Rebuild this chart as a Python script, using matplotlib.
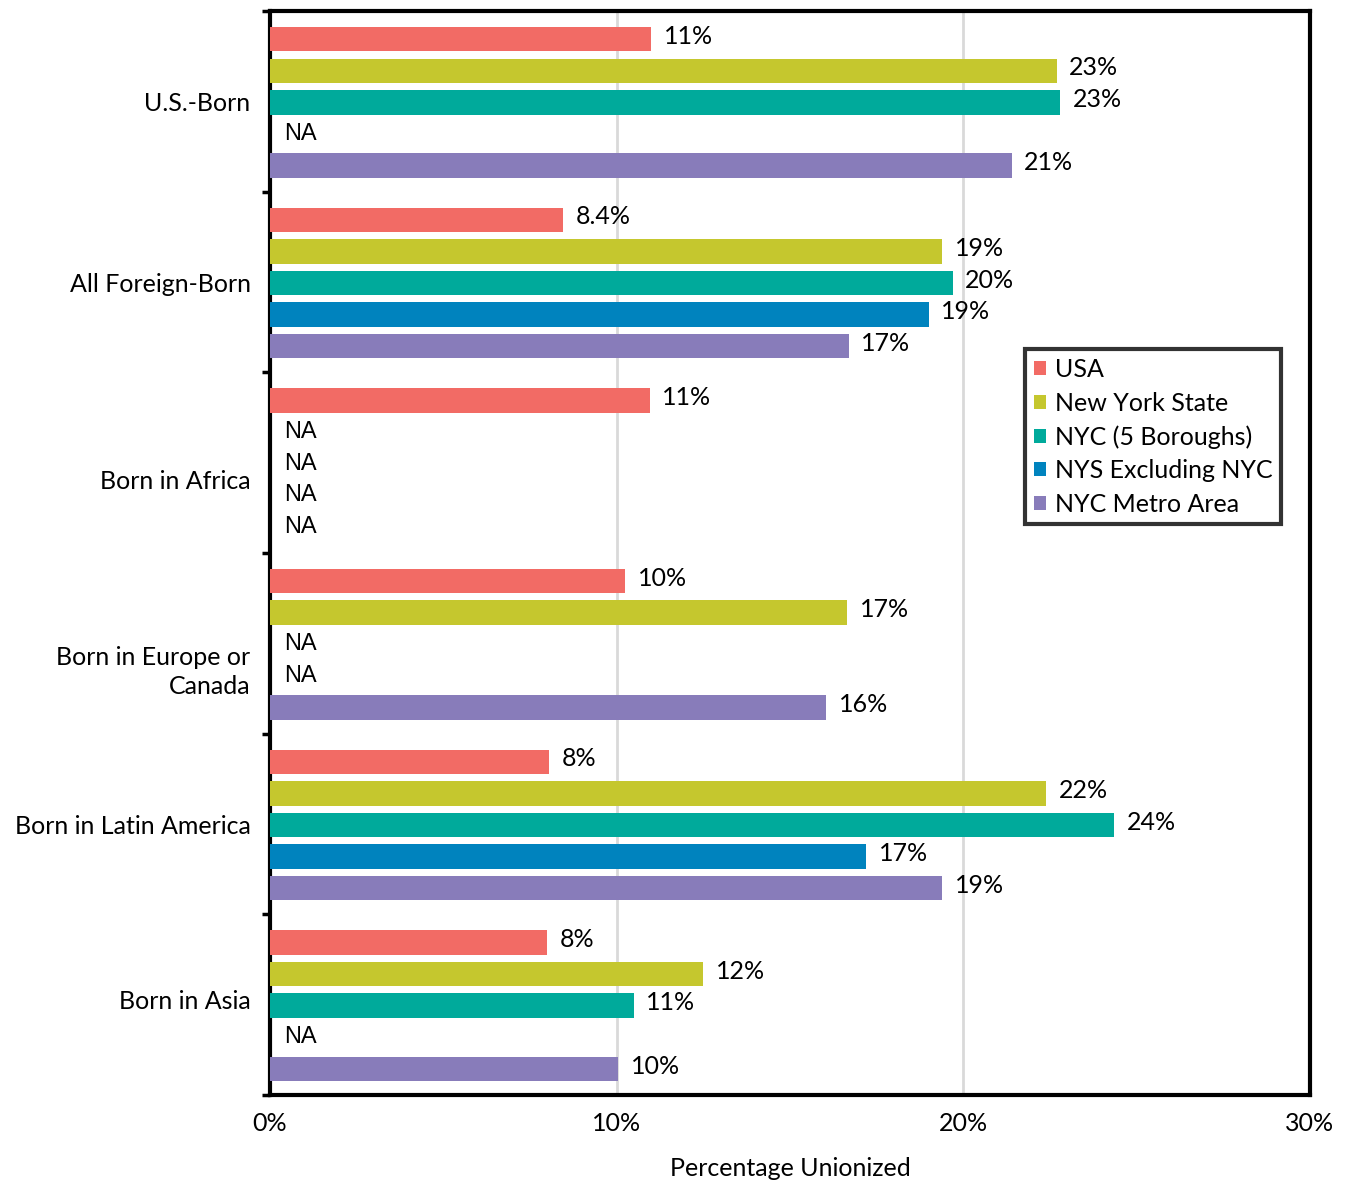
import numpy as np
import matplotlib
matplotlib.use("Agg")
import matplotlib.pyplot as plt
import matplotlib.transforms as mtransforms
from matplotlib.patches import Patch

plt.rcParams['font.family'] = ['Lato', 'DejaVu Sans']

groups = ["U.S.-Born", "All Foreign-Born", "Born in Africa",
          "Born in Europe or\nCanada", "Born in Latin America", "Born in Asia"]
series = ["USA", "New York State", "NYC (5 Boroughs)", "NYS Excluding NYC", "NYC Metro Area"]
colors = ["#F26B65", "#C5C72E", "#00AA9B", "#0083BE", "#887CBA"]

# percentage unionized; None = not available
usa        = [11.0, 8.45, 10.95, 10.25, 8.05, 8.0]
nys        = [22.7, 19.4, None, 16.65, 22.4, 12.5]
nyc        = [22.8, 19.7, None, None, 24.35, 10.5]
nys_ex_nyc = [None, 19.0, None, None, 17.2, None]
nyc_metro  = [21.4, 16.7, None, 16.05, 19.4, 10.05]
labels = [
    ["11%", "8.4%", "11%", "10%", "8%", "8%"],
    ["23%", "19%", "NA", "17%", "22%", "12%"],
    ["23%", "20%", "NA", "NA", "24%", "11%"],
    ["NA", "19%", "NA", "NA", "17%", "NA"],
    ["21%", "17%", "NA", "16%", "19%", "10%"],
]
values = [usa, nys, nyc, nys_ex_nyc, nyc_metro]
x_ticks = [0, 10, 20, 30]
x_ticklabels = ["0%", "10%", "20%", "30%"]

fig = plt.figure(figsize=(13.54, 11.83), dpi=100)
ax = fig.add_axes([0.1994, 0.0744, 0.768, 0.9162])

step = 0.175
height = 0.135
for j, (vals, col, labs) in enumerate(zip(values, colors, labels)):
    for i, (v, lab) in enumerate(zip(vals, labs)):
        y = i + 0.505 + (j - 2) * step
        if v is None:
            ax.text(0.42, y, "NA", ha="left", va="center", fontsize=17,
                    family=["Liberation Sans", "DejaVu Sans"])
        else:
            ax.barh(y, v, height=height, color=col, zorder=3)
            ax.annotate(lab, (v, y), xytext=(9, 2), textcoords="offset points",
                        ha="left", va="center", fontsize=18)

ax.set_ylim(6, 0)
ax.set_xlim(0, 30)
ax.set_yticks(np.arange(6) + 0.5)
ax.set_yticklabels(groups, fontsize=18, ha="right", linespacing=1.3)
ax.set_yticks(np.arange(7), minor=True)
ax.tick_params(axis="y", which="major", length=0, pad=14)
ax.tick_params(axis="y", which="minor", length=6, width=2.5, direction="out")

# vertical nudges (in points) for a few category labels
label_shift = {2: -12, 3: -17, 5: 4}
for i, tl in enumerate(ax.get_yticklabels()):
    dy = label_shift.get(i, 0)
    if dy:
        tl.set_transform(tl.get_transform() +
                         mtransforms.ScaledTranslation(0, dy / 72, fig.dpi_scale_trans))

ax.set_xticks(x_ticks)
ax.set_xticklabels(x_ticklabels, fontsize=18)
ax.tick_params(axis="x", length=0, pad=12)
ax.set_xlabel("Percentage Unionized", fontsize=18, labelpad=16)
ax.xaxis.grid(True, color="#D9D9D9", linewidth=2, zorder=0)
for s in ax.spines.values():
    s.set_linewidth(3)
    s.set_color("black")

handles = [Patch(facecolor=c, edgecolor="none") for c in colors]
leg = ax.legend(handles, series, loc="upper left", bbox_to_anchor=(0.726, 0.688),
                fontsize=18, frameon=True, fancybox=False, handlelength=0.5,
                handleheight=0.5, handletextpad=0.35, labelspacing=0.42,
                borderpad=0.35, borderaxespad=0)
leg.get_frame().set_edgecolor("black")
leg.get_frame().set_linewidth(3)

fig.savefig("out.png", dpi=100)
